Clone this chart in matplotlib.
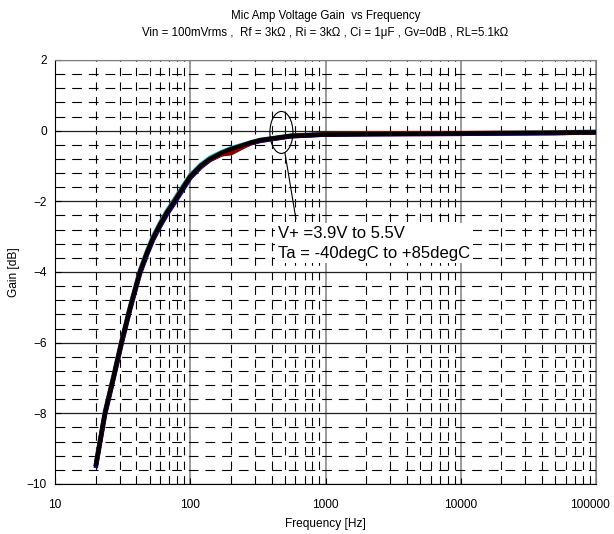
import matplotlib
matplotlib.use("Agg")
import matplotlib.pyplot as plt
from matplotlib.ticker import LogLocator, MultipleLocator, FixedLocator, NullFormatter
from matplotlib.patches import Ellipse
from matplotlib.transforms import ScaledTranslation

plt.rcParams['font.family'] = ['Liberation Sans', 'DejaVu Sans']
plt.rcParams['lines.scale_dashes'] = False

# frequency points [Hz]
freq = [20, 23.4, 27, 31, 36, 42.5, 48, 53, 60, 67, 77, 84, 100, 120, 140, 170, 200,
        280, 330, 550, 1000, 2000, 5000, 10000, 20000, 50000, 100000]

# gain [dB] for the different supply / temperature conditions
gain_typ = [-9.5, -8.0, -7.0, -6.0, -5.0, -4.0, -3.45, -3.05, -2.65, -2.33, -1.98, -1.75, -1.3,
            -0.99, -0.8, -0.63, -0.52, -0.34, -0.27, -0.15, -0.11, -0.1, -0.09, -0.08, -0.07, -0.06, -0.05]
gain_cyan = [-9.45, -7.95, -6.95, -5.95, -4.95, -3.95, -3.4, -3.0, -2.6, -2.28, -1.93, -1.7, -1.26,
             -0.96, -0.77, -0.61, -0.5, -0.33, -0.26, -0.14, -0.1, -0.09, -0.08, -0.08, -0.07, -0.05, -0.03]
gain_red = [-9.5, -8.0, -7.0, -6.0, -5.0, -4.0, -3.45, -3.05, -2.65, -2.33, -1.98, -1.75, -1.3,
            -1.0, -0.82, -0.67, -0.64, -0.35, -0.27, -0.15, -0.1, -0.08, -0.07, -0.07, -0.06, -0.06, -0.05]
gain_blue = [-9.55, -8.05, -7.05, -6.05, -5.05, -4.05, -3.5, -3.1, -2.7, -2.38, -2.03, -1.8, -1.34,
             -1.03, -0.83, -0.67, -0.59, -0.36, -0.29, -0.16, -0.11, -0.1, -0.09, -0.09, -0.08, -0.07, -0.04]
gain_purple = [-9.5, -8.0, -7.0, -6.0, -5.0, -4.0, -3.45, -3.05, -2.65, -2.33, -1.98, -1.75, -1.31,
               -1.0, -0.82, -0.65, -0.54, -0.35, -0.28, -0.16, -0.11, -0.1, -0.1, -0.09, -0.08, -0.07, -0.05]

xticks = [10, 100, 1000, 10000, 100000]
xticklabels = ['10', '100', '1000', '10000', '100000']
yticks = [-10, -8, -6, -4, -2, 0, 2]

fig = plt.figure(figsize=(6.14, 5.34), dpi=100)
ax = fig.add_axes([55 / 614, 1 - 484 / 534, 541 / 614, 424 / 534])

# colored runs sit under the black one, only their edges show
ax.plot(freq, gain_cyan, color='#00a0b0', lw=3.2, solid_capstyle='butt', zorder=3)
ax.plot(freq, gain_purple, color='#a000a0', lw=3.2, solid_capstyle='butt', zorder=3)
ax.plot(freq, gain_blue, color='#0000c0', lw=3.2, solid_capstyle='butt', zorder=3)
ax.plot(freq, gain_red, color='#900000', lw=3.2, solid_capstyle='butt', zorder=3)
ax.plot(freq, gain_typ, color='black', lw=3.0, solid_capstyle='butt', zorder=4)

ax.set_xscale('log')
ax.set_xlim(10, 100000)
ax.set_ylim(-10, 2)
ax.xaxis.set_major_locator(FixedLocator(xticks))
ax.set_xticklabels(xticklabels)
ax.xaxis.set_minor_locator(LogLocator(base=10, subs=[2, 3, 4, 5, 6, 7, 8, 9]))
ax.xaxis.set_minor_formatter(NullFormatter())
ax.set_yticks(yticks)
ax.yaxis.set_minor_locator(MultipleLocator(0.4))

# grid: solid majors, dashed minors
ax.xaxis.grid(True, which='major', color='#808080', lw=1.1, ls='-')
ax.yaxis.grid(True, which='major', color='#202020', lw=0.9, ls='-')
ax.xaxis.grid(True, which='minor', color='black', lw=0.8, ls=(0, (6, 4.5)))
ax.yaxis.grid(True, which='minor', color='black', lw=0.8, ls=(0, (7, 5)))
ax.set_axisbelow(True)

ax.tick_params(which='both', direction='in', labelsize=8.6, colors='black')
ax.tick_params(which='major', length=4, width=0.8)
ax.tick_params(axis='x', which='major', pad=11)
ax.tick_params(axis='y', which='major', pad=6)
ax.tick_params(which='minor', length=3, width=0.6)
ax.spines['left'].set_color('black')
ax.spines['bottom'].set_color('black')
ax.spines['top'].set_color('#808080')
ax.spines['right'].set_color('#808080')

# last frequency label is pulled in so it stays inside the picture
last = ax.get_xticklabels()[-1]
last.set_transform(last.get_transform() + ScaledTranslation(-0.06, 0, fig.dpi_scale_trans))

ax.set_xlabel('Frequency [Hz]', fontsize=8.6, labelpad=5)
ax.set_ylabel('Gain [dB]', fontsize=8.6, labelpad=5)
ax.set_title('Mic Amp Voltage Gain  vs Frequency\n'
             'Vin = 100mVrms ,  Rf = 3k\u03a9 , Ri = 3k\u03a9 , Ci = 1\u03bcF , Gv=0dB , RL=5.1k\u03a9',
             fontsize=8.3, pad=17, linespacing=1.6)

# annotation: ellipse round the flat part, leader line and text box
fig.canvas.draw()
cx, cy = ax.transAxes.inverted().transform(ax.transData.transform((472, -0.05)))
ax.add_patch(Ellipse((cx, cy), 0.0425, 0.099, transform=ax.transAxes,
                     fill=False, edgecolor='black', lw=0.8, zorder=5))
ax.plot([501, 604], [-0.62, -2.49], color='black', lw=0.8, zorder=5)
ax.text(445, -2.7, 'V+ =3.9V to 5.5V\nTa = -40degC to +85degC', fontsize=12,
        va='top', ha='left', linespacing=1.38, zorder=6,
        bbox=dict(facecolor='white', edgecolor='none', pad=2))

fig.savefig('out.png', dpi=100)
